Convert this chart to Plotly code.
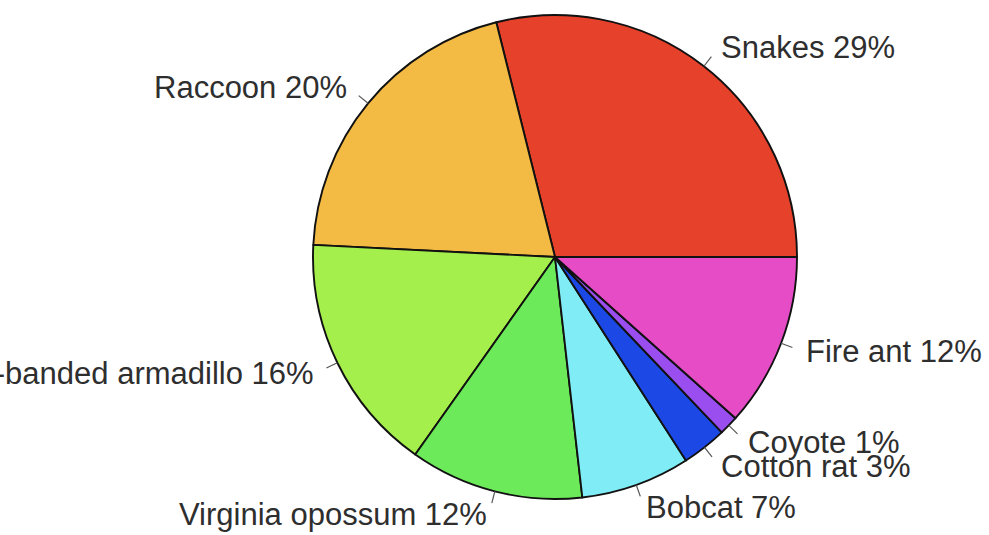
import math
import plotly.graph_objects as go

# Data
labels = ["Snakes", "Raccoon", "Nine-banded armadillo", "Virginia opossum",
          "Bobcat", "Cotton rat", "Coyote", "Fire ant"]
values = [28.9, 20.3, 16.0, 11.6, 7.3, 3.0, 1.3, 11.6]
pct_labels = ["29%", "20%", "16%", "12%", "7%", "3%", "1%", "12%"]
colors = ["#E6412A", "#F4BB44", "#A4EF4B", "#6CEA5A",
          "#80ECF5", "#1C48E6", "#9A4EF0", "#E64CC6"]

W, H = 989, 535
cx_px, cy_px, r_px = 555, 257, 242

dom_x = [(cx_px - r_px) / W, (cx_px + r_px) / W]
dom_y = [(H - cy_px - r_px) / H, (H - cy_px + r_px) / H]

total = sum(values)
# first slice starts at 3 o'clock and runs counterclockwise
rotation = 90 - values[0] / total * 360

fig = go.Figure(go.Pie(
    labels=labels, values=values, sort=False,
    direction="counterclockwise", rotation=rotation,
    marker=dict(colors=colors, line=dict(color="#111111", width=1.9)),
    textinfo="none", hoverinfo="label+percent",
    domain=dict(x=dom_x, y=dom_y), showlegend=False,
))

start = 0.0
annotations, shapes = [], []
for lab, v, p in zip(labels, values, pct_labels):
    ang = start + v / total * 360 / 2
    start += v / total * 360
    a = math.radians(ang)
    c, s = math.cos(a), math.sin(a)

    def to_paper(rr):
        px = cx_px + rr * r_px * c
        py = cy_px - rr * r_px * s
        return px / W, 1 - py / H

    x0, y0 = to_paper(1.0)
    x1, y1 = to_paper(1.05)
    shapes.append(dict(type="line", xref="paper", yref="paper",
                       x0=x0, y0=y0, x1=x1, y1=y1,
                       line=dict(color="#555555", width=1.2)))
    tx, ty = to_paper(1.1)
    annotations.append(dict(
        x=tx, y=ty, xref="paper", yref="paper", showarrow=False,
        text=f"{lab} {p}", xanchor="left" if c > 0 else "right",
        yanchor="middle",
        font=dict(family="Liberation Sans, Arial, sans-serif", size=31, color="#2e2e2e"),
    ))

fig.update_layout(
    width=W, height=H, margin=dict(l=0, r=0, t=0, b=0),
    paper_bgcolor="white", plot_bgcolor="white",
    annotations=annotations, shapes=shapes,
)
fig.write_html("out.html")
